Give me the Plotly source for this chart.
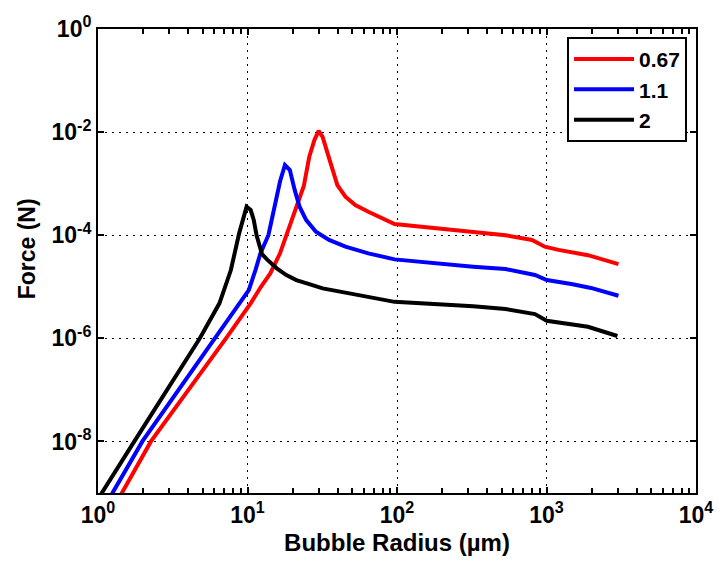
import plotly.graph_objects as go

# Bubble radius (µm) and force (N)
r_067 = [1.32, 1.44, 2.26, 7.18, 10.5, 12.3, 14.2, 16.5, 18.2, 21.2, 23.8, 25.9, 28.0, 29.9, 31.8,
         34.3, 37.0, 39.9, 45.2, 52.6, 64.3, 78.7, 96.3, 239, 532, 800, 974, 1203, 1893, 3030]
f_067 = [6.3e-10, 1e-9, 1.0e-8, 1e-6, 4.77e-6, 1.0e-5, 1.82e-5, 4.45e-5, 1.0e-4, 3.08e-4, 9.0e-4,
         3.33e-3, 7.0e-3, 1.06e-2, 8.1e-3, 3.9e-3, 1.84e-3, 9.4e-4, 5.6e-4, 3.85e-4, 2.86e-4, 2.13e-4,
         1.65e-4, 1.26e-4, 1.0e-4, 8.1e-5, 6.0e-5, 5.2e-5, 4.1e-5, 2.76e-5]

r_11 = [1.15, 1.25, 1.98, 6.02, 8.79, 10.2, 11.3, 12.2, 13.8, 15.3, 16.5, 17.8, 19.2, 20.7, 22.3,
        24.7, 28.7, 35.1, 45.2, 64.3, 96.3, 323, 532, 837, 1004, 1466, 1983, 3030]
f_11 = [6.0e-10, 1e-9, 1e-8, 1e-6, 4.77e-6, 8.6e-6, 2.11e-5, 4.45e-5, 1.0e-4, 4.0e-4, 1.1e-3,
        2.3e-3, 1.84e-3, 7.5e-4, 3.57e-4, 1.97e-4, 1.17e-4, 8.1e-5, 6.0e-5, 4.45e-5, 3.4e-5,
        2.45e-5, 2.21e-5, 1.69e-5, 1.35e-5, 1.13e-5, 9.5e-6, 6.7e-6]

r_2 = [0.98, 1.06, 1.75, 4.80, 6.49, 7.74, 8.8, 9.48, 9.86, 10.5, 11.0, 11.5, 12.5, 13.5,
       15.7, 18.2, 21.2, 25.9, 31.8, 45.2, 64.3, 96.3, 323, 532, 837, 1004, 1893, 2980]
f_2 = [6.5e-10, 1e-9, 1e-8, 1e-6, 4.77e-6, 2.11e-5, 1.1e-4, 2.29e-4, 3.57e-4, 3.08e-4, 2.0e-4,
       1.0e-4, 4.3e-5, 3.4e-5, 2.28e-5, 1.69e-5, 1.35e-5, 1.13e-5, 9.3e-6, 7.7e-6, 6.4e-6, 5.1e-6,
       4.2e-6, 3.7e-6, 2.96e-6, 2.19e-6, 1.68e-6, 1.11e-6]

series_names = ["0.67", "1.1", "2"]
series_colors = ["#FF0000", "#0000FF", "#000000"]

x_tickvals = [1, 10, 100, 1000, 10000]
x_ticktext = ["10<sup>0</sup>", "10<sup>1</sup>", "10<sup>2</sup>", "10<sup>3</sup>", "10<sup>4</sup>"]
y_tickvals = [1e-8, 1e-6, 1e-4, 1e-2, 1]
y_ticktext = ["10<sup>-8</sup>", "10<sup>-6</sup>", "10<sup>-4</sup>", "10<sup>-2</sup>", "10<sup>0</sup>"]
x_minor_vals = [k * 10 ** d for d in range(4) for k in range(2, 10)]

FONT = "Liberation Sans, Arial, sans-serif"

fig = go.Figure()
# transparent carrier trace so that the grid overlay axes (x2/y2) are drawn
fig.add_trace(go.Scatter(x=r_2, y=f_2, xaxis="x2", yaxis="y2", mode="lines", showlegend=False,
                         hoverinfo="skip", line=dict(color="rgba(0,0,0,0)", width=0)))
for xs, ys, name, col in zip([r_067, r_11, r_2], [f_067, f_11, f_2], series_names, series_colors):
    fig.add_trace(go.Scatter(x=xs, y=ys, mode="lines", name=name,
                             line=dict(color=col, width=4)))

axis_common = dict(
    type="log",
    showline=True, linecolor="black", linewidth=2, mirror="ticks",
    ticks="inside", ticklen=6, tickwidth=2, tickcolor="black",
    showgrid=False, zeroline=False,
    tickfont=dict(family=FONT, size=23, color="black", weight="bold"),
)
grid_common = dict(
    type="log", showgrid=True, gridcolor="black", gridwidth=1, griddash="2px,5px",
    ticks="", showticklabels=False, showline=False, zeroline=False,
)

fig.update_layout(
    xaxis=dict(**axis_common, range=[0, 4], tickmode="array",
               tickvals=x_tickvals, ticktext=x_ticktext,
               minor=dict(ticks="inside", ticklen=5, tickcolor="black", tickwidth=2,
                          tickmode="array", tickvals=x_minor_vals, showgrid=False),
               title=dict(text="Bubble Radius (µm)", standoff=8,
                          font=dict(family=FONT, size=24, color="black", weight="bold"))),
    yaxis=dict(**axis_common, range=[-9, 0], tickmode="array",
               tickvals=y_tickvals, ticktext=y_ticktext),
    xaxis2=dict(**grid_common, range=[0, 4], overlaying="x", anchor="y2", side="bottom",
                tickmode="array", tickvals=x_tickvals),
    yaxis2=dict(**grid_common, range=[-9, 0], overlaying="y", anchor="x2", side="left",
                tickmode="array", tickvals=y_tickvals),
)

fig.add_annotation(text="Force (N)", textangle=-90, xref="paper", yref="paper",
                   x=-0.118, y=0.526, xanchor="center", yanchor="middle", showarrow=False,
                   font=dict(family=FONT, size=23, color="black", weight="bold"))

fig.update_layout(
    width=725, height=572,
    margin=dict(l=98, r=18, t=29, b=79),
    paper_bgcolor="white", plot_bgcolor="white",
    showlegend=True,
    legend=dict(x=0.985, y=0.983, xanchor="right", yanchor="top",
                bgcolor="white", bordercolor="black", borderwidth=2,
                font=dict(family=FONT, size=21, color="black", weight="bold"),
                tracegroupgap=0, itemwidth=60),
)

fig.write_html("out.html")
